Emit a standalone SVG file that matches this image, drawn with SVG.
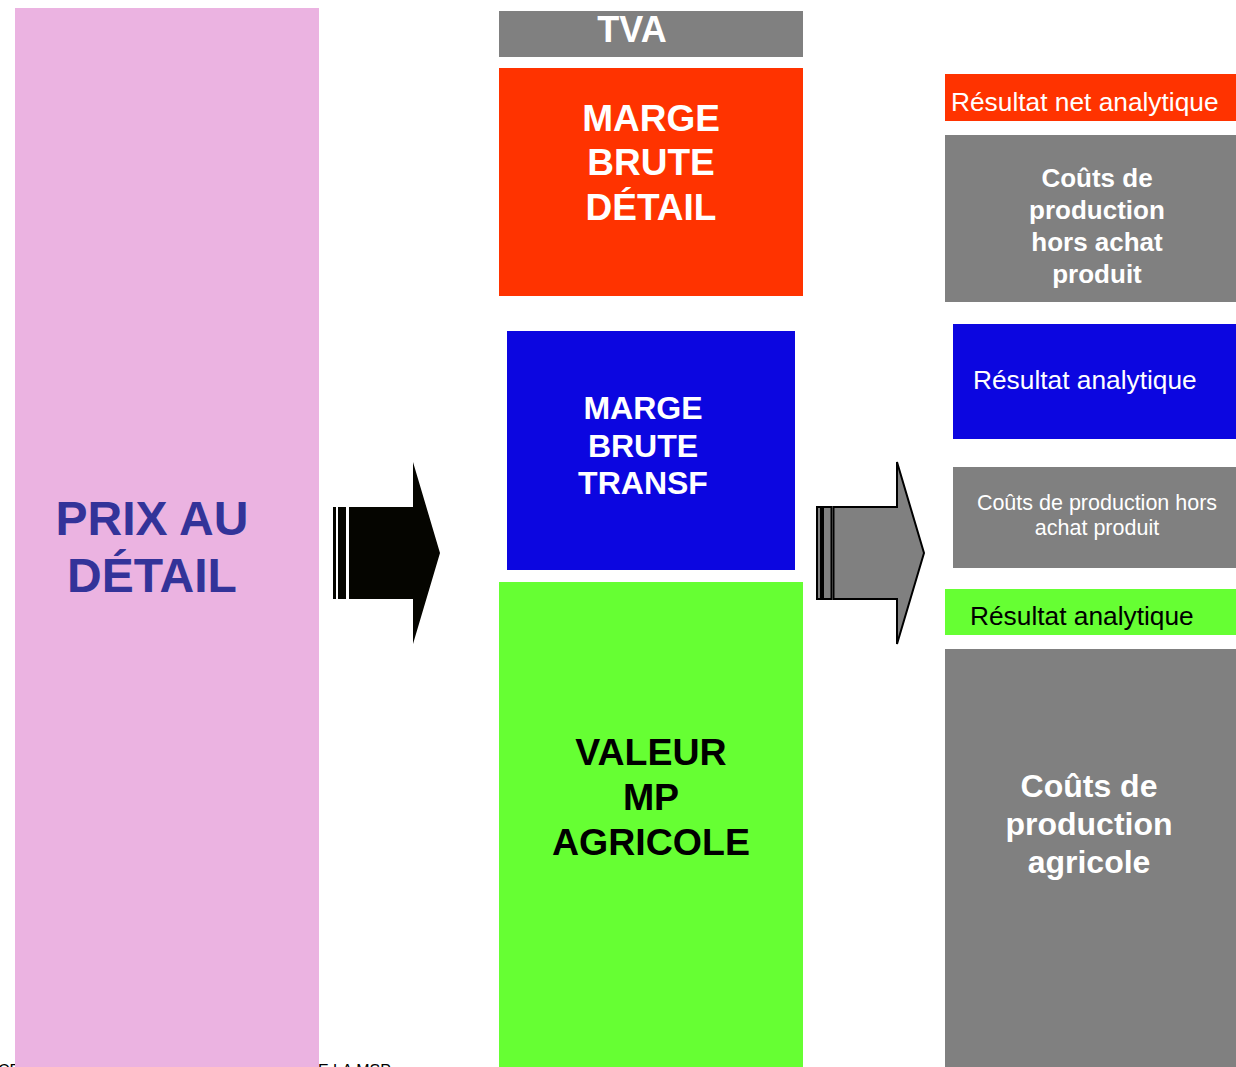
<svg xmlns="http://www.w3.org/2000/svg" width="1236" height="1067" viewBox="0 0 1236 1067">
<style>
text{font-family:"Liberation Sans",Arial,sans-serif;}
.b{font-weight:bold;}
.c{text-anchor:middle;}
.w{fill:#fff;}
.k{fill:#000;}
.gray{fill:#808080;}
.red{fill:#FF3300;}
.blue{fill:#0C06E0;}
.green{fill:#66FF33;}
.arr{stroke:#000;stroke-width:2;stroke-linejoin:miter;}
</style>
<rect width="1236" height="1067" fill="#fff"/>
<g id="footer">
<text x="-2" y="1076" font-size="16" class="k">CE</text>
<text x="318" y="1076" font-size="16" class="k">E LA MSP</text>
</g>
<g id="prix">
<rect x="15" y="8" width="304" height="1059" fill="#EBB3E1"/>
<text class="b c" x="152" y="535" font-size="48" fill="#333399">PRIX AU</text>
<text class="b c" x="152" y="592" font-size="48" fill="#333399">DÉTAIL</text>
</g>
<g id="tva">
<rect class="gray" x="499" y="11" width="304" height="46"/>
<text class="b c w" x="632" y="42" font-size="36">TVA</text>
</g>
<g id="marge-detail">
<rect class="red" x="499" y="68" width="304" height="228"/>
<text class="b c w" font-size="37"><tspan x="651" y="131">MARGE</tspan><tspan x="651" y="175">BRUTE</tspan><tspan x="651" y="220">DÉTAIL</tspan></text>
</g>
<g id="marge-transf">
<rect class="blue" x="507" y="331" width="288" height="239"/>
<text class="b c w" font-size="32"><tspan x="643" y="419">MARGE</tspan><tspan x="643" y="457">BRUTE</tspan><tspan x="643" y="494">TRANSF</tspan></text>
</g>
<g id="valeur-mp">
<rect class="green" x="499" y="582" width="304" height="485"/>
<text class="b c k" font-size="37.5"><tspan x="651" y="765">VALEUR</tspan><tspan x="651" y="810">MP</tspan><tspan x="651" y="855">AGRICOLE</tspan></text>
</g>
<g id="resultat-net">
<rect class="red" x="945" y="74" width="291" height="47"/>
<text class="w" x="951" y="111" font-size="26.3">Résultat net analytique</text>
</g>
<g id="couts-detail">
<rect class="gray" x="945" y="135" width="291" height="167"/>
<text class="b c w" font-size="26"><tspan x="1097" y="187">Coûts de</tspan><tspan x="1097" y="219">production</tspan><tspan x="1097" y="251">hors achat</tspan><tspan x="1097" y="283">produit</tspan></text>
</g>
<g id="resultat-transf">
<rect class="blue" x="953" y="324" width="283" height="115"/>
<text class="w" x="973" y="389" font-size="26.3">Résultat analytique</text>
</g>
<g id="couts-transf">
<rect class="gray" x="953" y="467" width="283" height="101"/>
<text class="c w" font-size="21.5"><tspan x="1097" y="510">Coûts de production hors</tspan><tspan x="1097" y="535">achat produit</tspan></text>
</g>
<g id="resultat-agri">
<rect class="green" x="945" y="589" width="291" height="46"/>
<text class="k" x="970" y="625" font-size="26.3">Résultat analytique</text>
</g>
<g id="couts-agri">
<rect class="gray" x="945" y="649" width="291" height="418"/>
<text class="b c w" font-size="32"><tspan x="1089" y="797">Coûts de</tspan><tspan x="1089" y="835">production</tspan><tspan x="1089" y="873">agricole</tspan></text>
</g>
<g id="connectors">
<g id="arrow1" fill="#050500">
<rect x="333" y="507" width="3" height="92"/>
<rect x="338" y="507" width="8" height="92"/>
<polygon points="349,507 413,507 413,462 440,553 413,644 413,599 349,599"/>
</g>
<g id="arrow2" fill="#808080" class="arr">
<rect x="817" y="507" width="4" height="92"/>
<rect x="823" y="507" width="8.5" height="92"/>
<polygon points="833.5,507 897,507 897,462 924,553 897,644 897,599 833.5,599"/>
</g>
</g>
</svg>
